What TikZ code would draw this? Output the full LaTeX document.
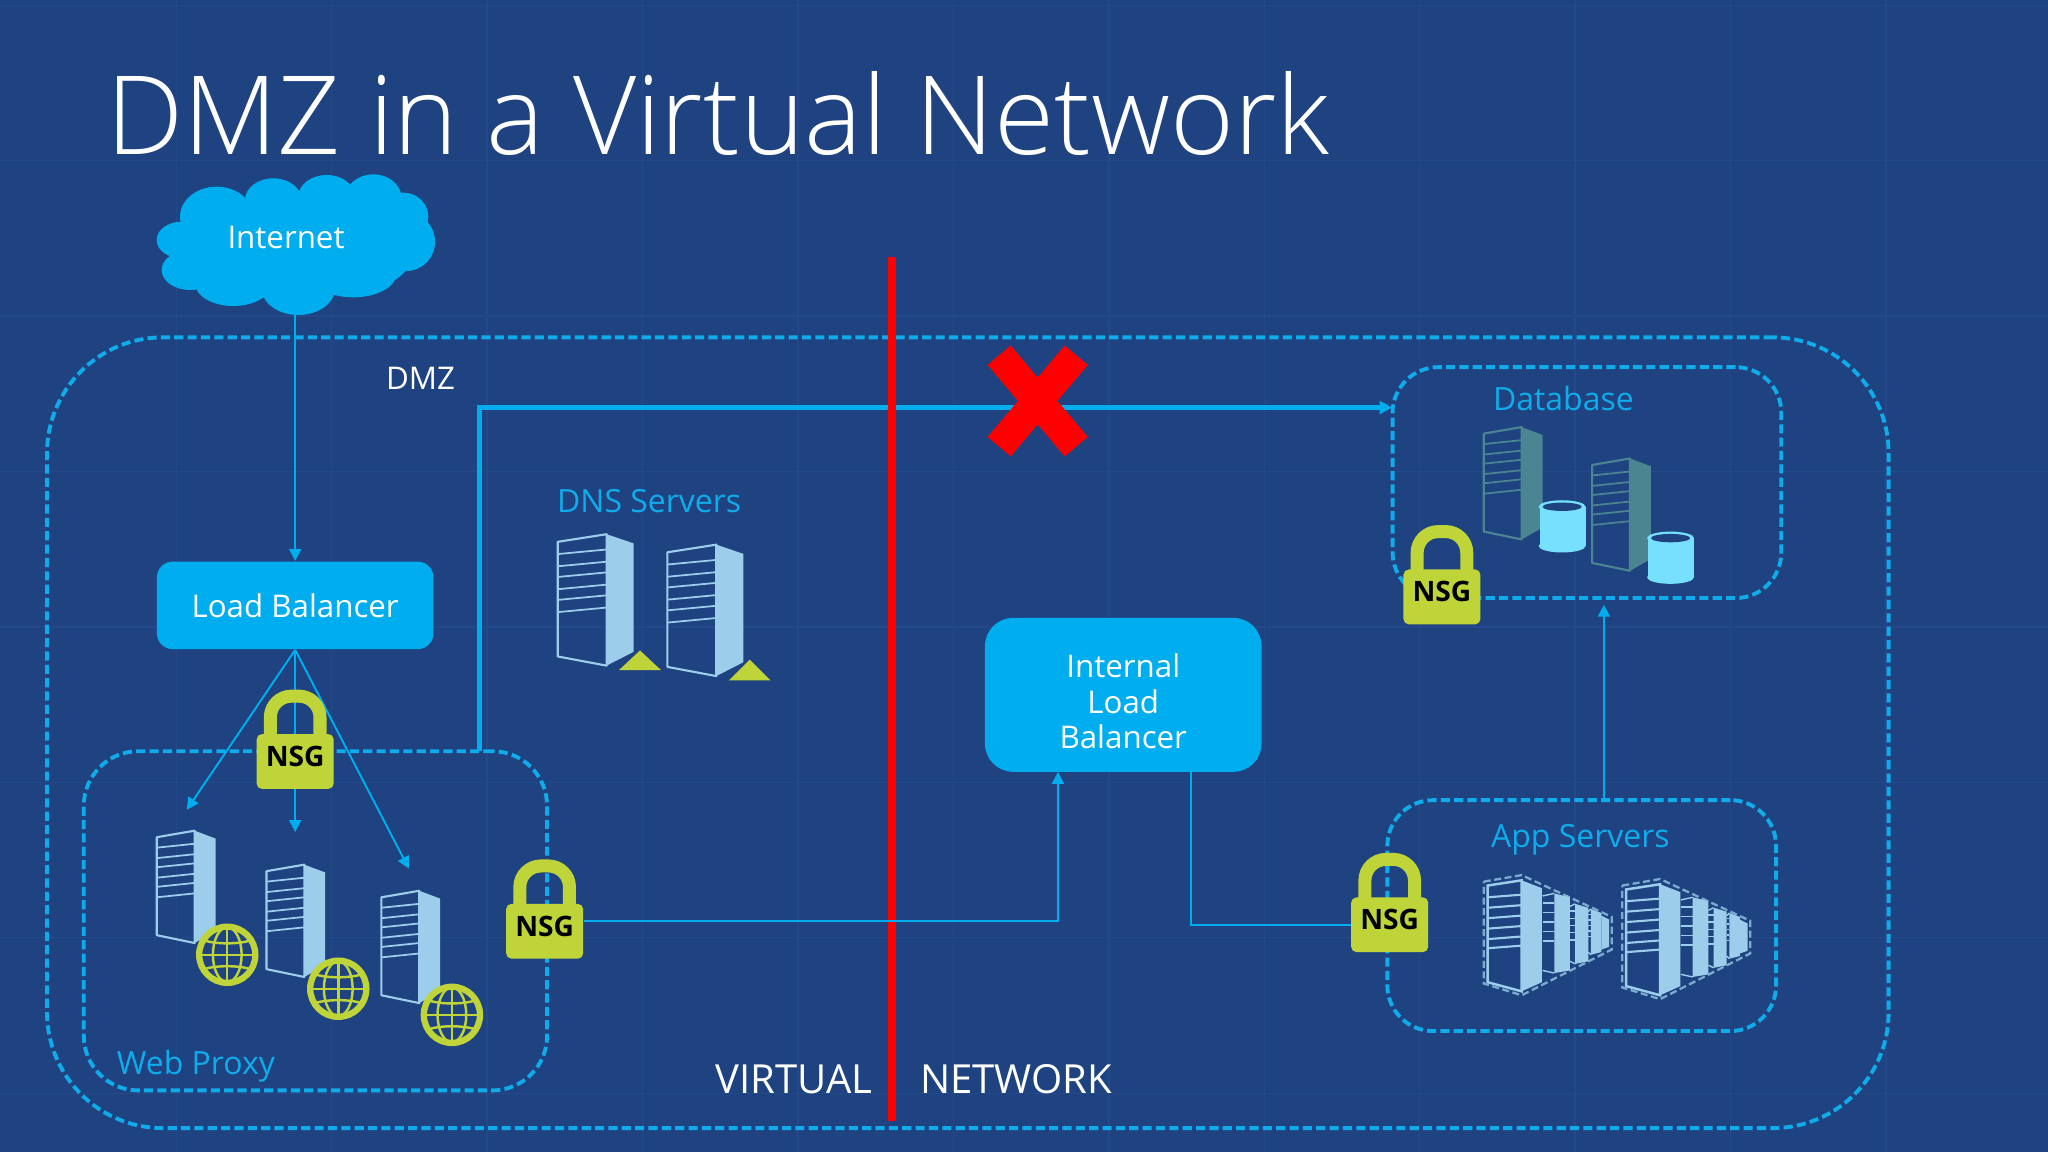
\documentclass[tikz,border=0pt]{standalone}
\usepackage{fontspec}
\setmainfont{Open Sans}
\newfontfamily\titlefont{Open Sans Light}
\usetikzlibrary{arrows.meta}
\definecolor{bgblue}{HTML}{1F4380}
\definecolor{gridblue}{HTML}{24498A}
\definecolor{skyblue}{HTML}{00AEEF}
\definecolor{dashblue}{HTML}{10ABEB}
\definecolor{lockgreen}{HTML}{BFD438}
\definecolor{srvlight}{HTML}{9CCDEA}
\definecolor{srvteal}{HTML}{4A8591}
\definecolor{dbcyan}{HTML}{78E0FF}
\tikzset{
  pics/server/.style={code={
    \fill[#1] (29,0) -- (45,6) -- (45,77) -- (29,86) -- cycle;
    \draw[#1,line width=0.6pt,line join=round] (0,5) -- (29,0) -- (29,86) -- (0,80) -- cycle;
    \foreach \yy in {13,21,28,36,43,51} {
      \draw[#1,line width=0.5pt] (0,\yy) -- (29,\yy-3);
    }
  }},
  pics/globe/.style={code={
    \draw[lockgreen,line width=1.8pt] (0,0) circle [radius=21.5];
    \draw[lockgreen,line width=0.7pt] (0,0) ellipse [x radius=11,y radius=21];
    \draw[lockgreen,line width=0.7pt] (0,-21) -- (0,21) (-21,0) -- (21,0);
    \draw[lockgreen,line width=0.7pt] (-18,-11) .. controls (-8,-8) and (8,-8) .. (18,-11);
    \draw[lockgreen,line width=0.7pt] (-18,11) .. controls (-8,8) and (8,8) .. (18,11);
  }},
  pics/dbdisk/.style={code={
    \fill[dbcyan] (0,35) ellipse [x radius=18,y radius=5];
    \fill[dbcyan] (-17,5) rectangle (18,35);
    \fill[dbcyan] (0,5) ellipse [x radius=18,y radius=5];
    \fill[bgblue] (0,5) ellipse [x radius=15,y radius=3.2];
  }},
  pics/rack/.style={code={
    \draw[srvlight!75!bgblue,line width=0.65pt,dash pattern=on 2pt off 1pt] (0,5) -- (29,0) -- (98,32) -- (98,57) -- (29,92) -- (0,83) -- cycle;
    \foreach \xa/\xb/\xc/\ya/\yb in {89/90/96/31/57,80/82/90/26/61,66/70/80/22/68,45/54/66/14/75} {
      \fill[srvlight] (\xb,\ya) -- (\xc,\ya+3) -- (\xc,\yb-2) -- (\xb,\yb) -- cycle;
      \draw[srvlight,line width=0.4pt] (\xa,\ya+2) -- (\xb,\ya) (\xa,\yb-2) -- (\xb,\yb);
      \foreach \ff in {0.12,0.24,0.36,0.48,0.6} {
        \draw[srvlight,line width=0.4pt] (\xa,{\ya+\ff*(\yb-\ya)}) -- (\xb,{\ya+\ff*(\yb-\ya)});
      }
    }
    \fill[srvlight] (29,4) -- (44.5,10) -- (44.5,82) -- (29,89) -- cycle;
    \draw[srvlight,line width=0.7pt,fill=bgblue] (3,8) -- (29,4) -- (29,89) -- (3,82) -- cycle;
    \foreach \yy in {17,25,33,41,49,56} {
      \draw[srvlight,line width=0.6pt] (3,\yy) -- (29,\yy-2);
    }
  }},
  pics/shackle/.style={code={
    \draw[lockgreen,line width=3.7pt,rounded corners=6pt] (-19,3) -- (-19,-29) -- (19,-29) -- (19,3);
  }}
}
\begin{document}
\begin{tikzpicture}[x=0.01306cm,y=-0.01306cm,font=\fontsize{8.9}{10}\selectfont]
  \tikzstyle{zone}=[draw=dashblue,line width=1.1pt,dash pattern=on 2.6pt off 1.2pt,inner sep=0pt]
  \tikzstyle{blue box}=[fill=skyblue,text=white,inner sep=0pt,align=center]
  \tikzstyle{nsg}=[fill=lockgreen,rounded corners=1.5pt,minimum width=21.9pt,minimum height=15.6pt,inner sep=0pt,text height=5.7pt,text depth=3pt,font=\fontsize{8}{8}\selectfont\bfseries]
  \tikzstyle{edge}=[draw=skyblue,line width=0.55pt,-{Triangle[length=3.4pt,width=3.4pt]}]
  \tikzstyle{plain edge}=[draw=skyblue,line width=0.55pt]
  \tikzstyle{bluetext}=[text=dashblue,font=\fontsize{9.1}{10}\selectfont]
  \tikzstyle{whitetext}=[text=white]
  \useasboundingbox (0,0) rectangle (1568,882);
  \fill[bgblue] (0,0) rectangle (1568,882);
  \foreach \gx in {135,254,...,1500} { \draw[gridblue,line width=0.4pt] (\gx,0) -- (\gx,882); }
  \foreach \gy in {4,123,...,880} { \draw[gridblue,line width=0.4pt] (0,\gy) -- (1568,\gy); }
  % title
  \node[anchor=base west,text=white,inner sep=0pt,font=\fontsize{31.1}{31}\titlefont] (title) at (81,118) {DMZ in a Virtual Network};
  % zones
  \node[zone,rounded corners=33pt,minimum width=524pt,minimum height=225pt] (dmz) at (741,561) {};
  \node[zone,rounded corners=15.5pt,minimum width=131.8pt,minimum height=96.5pt] (webproxy) at (241.5,705) {};
  \node[zone,rounded corners=13pt,minimum width=110.6pt,minimum height=65.7pt] (database) at (1215,369.5) {};
  \node[zone,rounded corners=13pt,minimum width=110.6pt,minimum height=65.7pt] (appservers) at (1211,701) {};
  % cloud
  \begin{scope}[shift={(107.2,122.5)},scale=0.2552]
    \foreach \cx/\cy/\rx/\ry in {460/260/330/145,230/170/110/90,400/120/85/65,560/110/85/65,700/115/85/72,790/170/75/72,800/245/85/88,690/270/130/110,640/340/130/72,125/240/75/55,150/330/85/60,280/370/115/68,475/385/110/80} {
      \fill[skyblue] (\cx,\cy) ellipse [x radius=\rx,y radius=\ry];
    }
  \end{scope}
  \node[minimum width=78.7pt,minimum height=40pt,inner sep=0pt] (internet) at (226,187) {};
  \node[whitetext] (internetlabel) at (219,182) {Internet};
  \node[blue box,rounded corners=4.5pt,minimum width=78.7pt,minimum height=24.9pt] (lb) at (226,463.5) {Load Balancer};
  \node[blue box,rounded corners=8pt,minimum width=78.7pt,minimum height=43.8pt] (ilb) at (860,532) {};
  \node[whitetext,align=center,font=\fontsize{8.9}{10.2}\selectfont] (ilblabel) at (860,537) {Internal\\Load\\Balancer};
  % labels
  \node[whitetext] (dmzlabel) at (322,290) {DMZ};
  \node[bluetext] (dnslabel) at (497,384) {DNS Servers};
  \node[bluetext] (weblabel) at (150,816) {Web Proxy};
  \node[bluetext] (dblabel) at (1197,305) {Database};
  \node[bluetext] (applabel) at (1210,643) {App Servers};
  \node[whitetext,font=\fontsize{11.4}{12}\selectfont] (virtual) at (608,826) {VIRTUAL};
  \node[whitetext,font=\fontsize{11.4}{12}\selectfont] (network) at (778,826) {NETWORK};
  % connector ends
  \coordinate (wpa) at (143,620);
  \coordinate (wpb) at (226,637);
  \coordinate (wpc) at (313,665);
  \coordinate (wpout) at (367,575);
  \coordinate (dbin) at (1066,312);
  \coordinate (ilbin) at (810,591);
  \coordinate (ilbout) at (912,591);
  \coordinate (appout) at (1228,613);
  \coordinate (dbport) at (1228,463);
  % servers
  \pic at (120,636) {server=srvlight};
  \pic at (204,662) {server=srvlight};
  \pic at (292,682) {server=srvlight};
  \pic[xscale=1.29,yscale=1.17] at (427,409) {server=srvlight};
  \pic[xscale=1.29,yscale=1.17] at (511,417) {server=srvlight};
  \pic at (1136,327) {server=srvteal};
  \pic at (1219,351) {server=srvteal};
  \pic at (1136,670) {rack};
  \pic at (1242,673) {rack};
  \foreach \gx/\gy in {174/731,259/757,346/777} { \pic at (\gx,\gy) {globe}; }
  \pic at (1196,383) {dbdisk};
  \pic at (1279,407) {dbdisk};
  \fill[lockgreen] (474,513) -- (490,498) -- (506,513) -- cycle;
  \fill[lockgreen] (558,521) -- (574,505) -- (590,521) -- cycle;
  % connectors
  \path[edge] (internet.south) -- (lb.north);
  \path[edge] (lb.south) -- (wpa);
  \path[edge] (lb.south) -- (wpb);
  \path[edge] (lb.south) -- (wpc);
  \path[edge] (appout) -- (dbport);
  \draw[skyblue,line width=1.3pt,-{Triangle[length=3.6pt,width=3.6pt]}] (wpout) |- (dbin);
  % red line and cross
  \draw[red,line width=2.4pt] (683,197) -- (683,858);
  \draw[red,line width=8.6pt] (765,272) -- (824,342) (824,272) -- (765,342);
  % locks
  \node[nsg] (locka) at (226,583) {NSG};
  \pic at (226,562) {shackle};
  \node[nsg] (lockb) at (417,713) {NSG};
  \pic at (417,692) {shackle};
  \node[nsg] (lockc) at (1064,708) {NSG};
  \pic at (1064,687) {shackle};
  \node[nsg] (lockd) at (1104,457) {NSG};
  \pic at (1104,436) {shackle};
  \path[edge] ([yshift=3pt]lockb.east) -| (ilbin);
  \path[plain edge] (ilbout) |- (lockc.west);
\end{tikzpicture}
\end{document}
